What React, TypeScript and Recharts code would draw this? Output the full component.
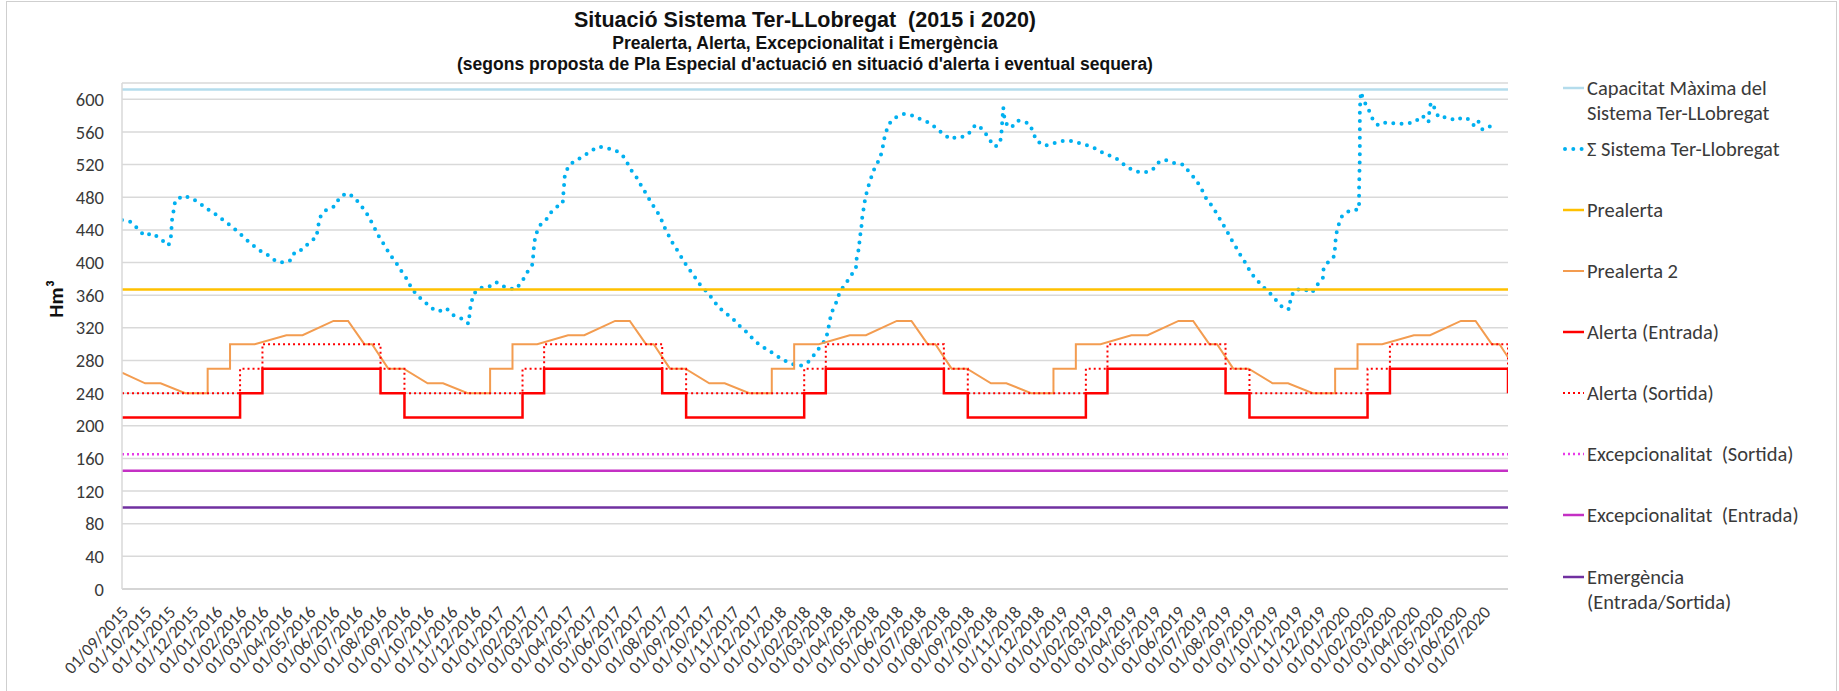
import { LineChart, Line, XAxis, YAxis, CartesianGrid, ReferenceLine } from 'recharts';

// etiquetes de l'eix X (un tick per mes)
const etiquetesMesos = [
  '01/09/2015', '01/10/2015', '01/11/2015', '01/12/2015',
  '01/01/2016', '01/02/2016', '01/03/2016', '01/04/2016', '01/05/2016', '01/06/2016',
  '01/07/2016', '01/08/2016', '01/09/2016', '01/10/2016', '01/11/2016', '01/12/2016',
  '01/01/2017', '01/02/2017', '01/03/2017', '01/04/2017', '01/05/2017', '01/06/2017',
  '01/07/2017', '01/08/2017', '01/09/2017', '01/10/2017', '01/11/2017', '01/12/2017',
  '01/01/2018', '01/02/2018', '01/03/2018', '01/04/2018', '01/05/2018', '01/06/2018',
  '01/07/2018', '01/08/2018', '01/09/2018', '01/10/2018', '01/11/2018', '01/12/2018',
  '01/01/2019', '01/02/2019', '01/03/2019', '01/04/2019', '01/05/2019', '01/06/2019',
  '01/07/2019', '01/08/2019', '01/09/2019', '01/10/2019', '01/11/2019', '01/12/2019',
  '01/01/2020', '01/02/2020', '01/03/2020', '01/04/2020', '01/05/2020', '01/06/2020',
  '01/07/2020',
];
const fiEix = '01/08/2020';

const ticksHm3 = [0, 40, 80, 120, 160, 200, 240, 280, 320, 360, 400, 440, 480, 520, 560, 600];

// llindars constants (Hm3)
const capacitatMaxima = 612;
const prealerta = 367;
const excepSortida = 165;
const excepEntrada = 145;
const emergencia = 100;

// valors mensuals de 01/09/2015 a 01/08/2020
const alertaEntradaMes = [
  210, 210, 210, 210, 210, 240, 270, 270, 270, 270, 270, 240,
  210, 210, 210, 210, 210, 240, 270, 270, 270, 270, 270, 240,
  210, 210, 210, 210, 210, 240, 270, 270, 270, 270, 270, 240,
  210, 210, 210, 210, 210, 240, 270, 270, 270, 270, 270, 240,
  210, 210, 210, 210, 210, 240, 270, 270, 270, 270, 270, 240,
];
const alertaSortidaMes = [
  240, 240, 240, 240, 240, 270, 300, 300, 300, 300, 300, 270,
  240, 240, 240, 240, 240, 270, 300, 300, 300, 300, 300, 270,
  240, 240, 240, 240, 240, 270, 300, 300, 300, 300, 300, 270,
  240, 240, 240, 240, 240, 270, 300, 300, 300, 300, 300, 270,
  240, 240, 240, 240, 240, 270, 300, 300, 300, 300, 300, 270,
];

// [dies des del 01/09/2015, Hm3]
const prealerta2: [number, number][] = [
  [0, 265], [30, 252], [50, 252], [82, 240], [111, 240], [111, 270], [140, 270], [140, 300],
  [172, 300], [213, 311], [234, 311], [274, 328.5], [293, 328.5], [314, 300], [324, 300],
  [345, 270], [365, 270],
  [396, 252], [416, 252], [448, 240], [477, 240], [477, 270], [506, 270], [506, 300],
  [538, 300], [578, 311], [599, 311], [639, 328.5], [658, 328.5], [679, 300], [689, 300],
  [710, 270], [730, 270],
  [761, 252], [781, 252], [813, 240], [842, 240], [842, 270], [871, 270], [871, 300],
  [903, 300], [943, 311], [964, 311], [1004, 328.5], [1023, 328.5], [1044, 300], [1054, 300],
  [1075, 270], [1095, 270],
  [1126, 252], [1146, 252], [1178, 240], [1207, 240], [1207, 270], [1236, 270], [1236, 300],
  [1268, 300], [1308, 311], [1329, 311], [1369, 328.5], [1388, 328.5], [1409, 300], [1419, 300],
  [1440, 270], [1460, 270],
  [1491, 252], [1511, 252], [1543, 240], [1572, 240], [1572, 270], [1601, 270], [1601, 300],
  [1633, 300], [1674, 311], [1695, 311], [1735, 328.5], [1754, 328.5], [1775, 300], [1785, 300],
  [1796, 284],
];

// Σ Sistema Ter-Llobregat [dies des del 01/09/2015, Hm3]
const sistemaTerLlobregat: [number, number][] = [
  [0, 452], [11, 450], [20, 442], [29, 433], [39, 436], [50, 429], [60, 421], [63, 427],
  [64, 440], [65, 454], [67, 464], [69, 476], [80, 482], [92, 478], [103, 471], [113, 464],
  [123, 458], [131, 452], [141, 445], [151, 437], [160, 429], [170, 421], [180, 414], [191, 408],
  [200, 401], [211, 400], [219, 403], [224, 413], [234, 416], [243, 425], [252, 431], [254, 444],
  [257, 456], [265, 465], [276, 469], [281, 478], [290, 485], [300, 481], [308, 472], [316, 462],
  [322, 452], [328, 441], [334, 430], [341, 420], [347, 410], [355, 400], [361, 391], [369, 380],
  [375, 369], [382, 360], [392, 352], [401, 344], [410, 340], [420, 344], [430, 335], [441, 331],
  [449, 325], [452, 349], [456, 362], [464, 369], [475, 370], [485, 376], [494, 371], [503, 368],
  [511, 368], [519, 378], [525, 388], [532, 398], [533, 410], [534, 422], [536, 434], [542, 446],
  [550, 453], [557, 463], [563, 468], [571, 472], [572, 485], [573, 497], [574, 509], [580, 520],
  [590, 526], [599, 531], [608, 537], [618, 542], [628, 540], [639, 538], [649, 531], [656, 520],
  [660, 513], [667, 504], [673, 494], [680, 483], [686, 473], [693, 463], [698, 455], [702, 445],
  [708, 434], [714, 423], [721, 413], [727, 403], [734, 393], [741, 384], [748, 374], [756, 366],
  [764, 357], [771, 348], [780, 339], [790, 333], [797, 325], [807, 317], [816, 308], [825, 300],
  [835, 294], [845, 288], [856, 281], [867, 276], [878, 273], [889, 278], [897, 287], [904, 296],
  [912, 306], [915, 317], [917, 329], [921, 342], [927, 354], [930, 364], [937, 373], [944, 383],
  [951, 393], [952, 405], [955, 418], [956, 430], [958, 442], [959, 454], [961, 466], [963, 478],
  [966, 490], [970, 502], [974, 513], [980, 524], [985, 536], [987, 549], [990, 560], [994, 570],
  [1003, 578], [1013, 582], [1025, 580], [1036, 575], [1047, 571], [1056, 564], [1066, 556],
  [1075, 551], [1081, 554], [1091, 554], [1098, 559], [1106, 569], [1116, 563], [1123, 552],
  [1131, 542], [1136, 544], [1139, 552], [1140, 564], [1141, 578], [1142, 590], [1144, 572],
  [1152, 565], [1161, 574], [1170, 572], [1176, 570], [1180, 561], [1185, 549], [1196, 543],
  [1207, 546], [1219, 549], [1232, 549], [1245, 545], [1257, 542], [1268, 536], [1280, 531],
  [1291, 526], [1301, 518], [1312, 512], [1324, 510], [1335, 513], [1342, 522], [1351, 526],
  [1363, 522], [1375, 520], [1382, 512], [1391, 502], [1398, 492], [1404, 480], [1411, 471],
  [1418, 461], [1424, 451], [1431, 440], [1437, 429], [1444, 418], [1450, 408], [1457, 398],
  [1463, 387], [1472, 377], [1481, 368], [1489, 361], [1498, 351], [1506, 343], [1513, 343],
  [1514, 355], [1519, 366], [1530, 368], [1542, 363], [1548, 372], [1556, 380], [1557, 392],
  [1564, 402], [1571, 408], [1572, 420], [1573, 433], [1576, 445], [1581, 457], [1591, 464],
  [1603, 465], [1603, 490], [1604, 530], [1604, 570], [1604, 589], [1605, 601], [1605, 609],
  [1610, 597], [1616, 586], [1621, 575], [1628, 568], [1639, 572], [1651, 570], [1663, 570],
  [1675, 572], [1685, 580], [1693, 572], [1694, 584], [1696, 596], [1701, 589], [1706, 578],
  [1716, 578], [1729, 574], [1737, 578], [1744, 576], [1752, 568], [1757, 574], [1763, 563],
  [1773, 567],
];

const dia = (s: string) => {
  const [d, m, y] = s.split('/').map(Number);
  return Math.round((Date.UTC(y, m - 1, d) - Date.UTC(2015, 8, 1)) / 86400000);
};

const ticksDies = etiquetesMesos.map(dia);
const fiDia = dia(fiEix);
const diesLlindar = [...etiquetesMesos, fiEix].map(dia);

const aPunts = (p: [number, number][]) => p.map(([d, v]) => ({ dia: d, v }));
const mensual = (vals: number[]) => vals.map((v, i) => ({ dia: diesLlindar[i], v }));

const FONT = 'Carlito, Lato, "Open Sans", sans-serif';
const GRIS = '#3a3a3a';

// eslint-disable-next-line @typescript-eslint/no-explicit-any
function XTick({ x, y, payload }: any) {
  const idx = ticksDies.indexOf(payload.value);
  return (
    <text
      x={x + 3}
      y={y}
      transform={`rotate(-47 ${x + 3} ${y})`}
      textAnchor="end"
      dominantBaseline="central"
      fontFamily={FONT}
      fontSize={17.5}
      fill={GRIS}
    >
      {etiquetesMesos[idx]}
    </text>
  );
}

const llegenda = [
  { nom: ['Capacitat Màxima del', 'Sistema Ter-LLobregat'], color: '#B4DCEC', w: 2.5, dash: '', y: 88 },
  { nom: ['Σ Sistema Ter-Llobregat'], color: '#00B0F0', w: 4, dash: '0 8.3', y: 149 },
  { nom: ['Prealerta'], color: '#FFC000', w: 2.5, dash: '', y: 210 },
  { nom: ['Prealerta 2'], color: '#F39C50', w: 2, dash: '', y: 271 },
  { nom: ['Alerta (Entrada)'], color: '#FF0000', w: 2.5, dash: '', y: 332 },
  { nom: ['Alerta (Sortida)'], color: '#FF0000', w: 2, dash: '2 3', y: 393 },
  { nom: ['Excepcionalitat  (Sortida)'], color: '#E83AE8', w: 2.5, dash: '2 3', y: 454 },
  { nom: ['Excepcionalitat  (Entrada)'], color: '#C430C4', w: 2.5, dash: '', y: 515 },
  { nom: ['Emergència', '(Entrada/Sortida)'], color: '#7030A0', w: 2.5, dash: '', y: 577 },
];

function Llegenda() {
  return (
    <>
      {llegenda.map((e) => (
        <div key={e.nom[0]}>
          <svg style={{ position: 'absolute', left: 1562, top: e.y - 5 }} width={24} height={10}>
            <line
              x1={e.dash.startsWith('0') ? 3 : 1}
              y1={5}
              x2={22}
              y2={5}
              stroke={e.color}
              strokeWidth={e.w}
              strokeDasharray={e.dash || undefined}
              strokeLinecap={e.dash.startsWith('0') ? 'round' : 'butt'}
            />
          </svg>
          {e.nom.map((t, i) => (
            <div
              key={t}
              style={{
                position: 'absolute',
                left: 1587,
                top: e.y + i * 25 - 13,
                height: 26,
                lineHeight: '26px',
                fontFamily: FONT,
                fontSize: 20.5,
                color: GRIS,
                whiteSpace: 'pre',
              }}
            >
              {t}
            </div>
          ))}
        </div>
      ))}
    </>
  );
}

function Titol() {
  const base = {
    position: 'absolute' as const,
    left: 305,
    width: 1000,
    textAlign: 'center' as const,
    fontFamily: '"Liberation Sans", Arial, sans-serif',
    fontWeight: 700,
    color: '#111',
    whiteSpace: 'pre' as const,
  };
  return (
    <>
      <div style={{ ...base, top: 6, fontSize: 21.5, lineHeight: '28px' }}>
        Situació Sistema Ter-LLobregat  (2015 i 2020)
      </div>
      <div style={{ ...base, top: 32, fontSize: 17.5, lineHeight: '22px' }}>
        Prealerta, Alerta, Excepcionalitat i Emergència
      </div>
      <div style={{ ...base, top: 53, fontSize: 17.5, lineHeight: '22px' }}>
        (segons proposta de Pla Especial d'actuació en situació d'alerta i eventual sequera)
      </div>
    </>
  );
}

export default function App() {
  return (
    <div style={{ position: 'absolute', left: 0, top: 0, width: 1839, height: 691, overflow: 'hidden', background: '#fff' }}>
      <div
        style={{
          position: 'absolute',
          left: 6,
          top: 1,
          width: 1831,
          height: 720,
          border: '1px solid #cfcfcf',
          boxSizing: 'border-box',
        }}
      />
      <div style={{ position: 'absolute', left: 0, top: 0 }}>
        <LineChart width={1839} height={691} margin={{ top: 83, right: 331, bottom: 0, left: 0 }}>
          <CartesianGrid vertical={false} stroke="#d9d9d9" strokeWidth={1.5} />
          <XAxis
            type="number"
            dataKey="dia"
            domain={[0, fiDia]}
            ticks={ticksDies}
            interval={0}
            height={102}
            tickSize={0}
            tickMargin={20}
            tick={<XTick />}
            axisLine={{ stroke: '#d0d0d0', strokeWidth: 1.5 }}
            tickLine={false}
            allowDataOverflow
          />
          <YAxis
            type="number"
            domain={[0, 620]}
            ticks={ticksHm3}
            interval={0}
            width={122}
            tickSize={0}
            tickMargin={18}
            tickLine={false}
            axisLine={{ stroke: '#d9d9d9', strokeWidth: 1.5 }}
            tick={{ fontFamily: FONT, fontSize: 18.5, fill: GRIS }}
            allowDataOverflow
          />
          <ReferenceLine y={capacitatMaxima} stroke="#B4DCEC" strokeWidth={2.5} />
          <Line
            data={aPunts(sistemaTerLlobregat)}
            dataKey="v"
            type="linear"
            stroke="#00B0F0"
            strokeWidth={4}
            strokeDasharray="0 8.3"
            strokeLinecap="round"
            dot={false}
            isAnimationActive={false}
          />
          <ReferenceLine y={prealerta} stroke="#FFC000" strokeWidth={2.5} />
          <Line
            data={aPunts(prealerta2)}
            dataKey="v"
            type="linear"
            stroke="#F39C50"
            strokeWidth={2}
            dot={false}
            isAnimationActive={false}
          />
          <Line
            data={mensual(alertaEntradaMes)}
            dataKey="v"
            type="stepAfter"
            stroke="#FF0000"
            strokeWidth={2.5}
            dot={false}
            isAnimationActive={false}
          />
          <Line
            data={mensual(alertaSortidaMes)}
            dataKey="v"
            type="stepAfter"
            stroke="#FF0000"
            strokeWidth={2}
            strokeDasharray="2 3"
            dot={false}
            isAnimationActive={false}
          />
          <ReferenceLine y={excepSortida} stroke="#E83AE8" strokeWidth={2.5} strokeDasharray="2 3" />
          <ReferenceLine y={excepEntrada} stroke="#C430C4" strokeWidth={2.5} />
          <ReferenceLine y={emergencia} stroke="#7030A0" strokeWidth={2.5} />
        </LineChart>
      </div>
      <Titol />
      <div
        style={{
          position: 'absolute',
          left: 56,
          top: 299,
          transform: 'translate(-50%, -50%) rotate(-90deg)',
          fontFamily: FONT,
          fontWeight: 700,
          fontSize: 21,
          color: '#111',
        }}
      >
        Hm³
      </div>
      <Llegenda />
    </div>
  );
}
